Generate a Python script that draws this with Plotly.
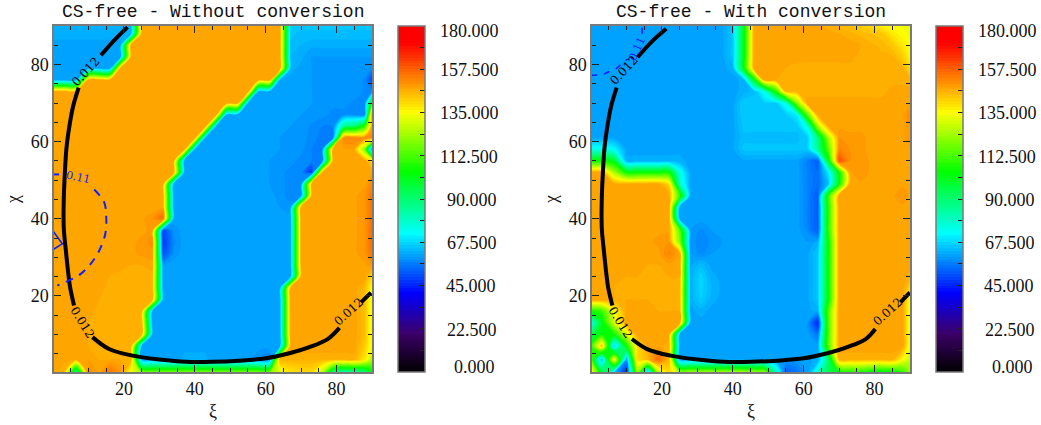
import plotly.graph_objects as go

W, H = 1041, 425

xi_nodes = [0, 3, 6.5, 10, 13, 16, 19, 22, 25, 28, 31, 34, 37, 40, 43, 46, 49, 52, 55, 58, 61, 64, 67, 70, 73, 76, 79, 82, 85, 88, 90]
chi_nodes = [0, 3.5, 7, 10, 13, 16, 19, 22, 25, 28, 31, 34, 37, 40, 43, 46, 49, 52, 55, 58, 61, 64, 67, 70, 73, 76, 79, 82, 85, 88, 90]

# CS-free, without conversion (rows run from chi = 0 upward)
angle_without = [
 [148,145,80,152,148,155,150,132,125,122,122,122,122,122,122,122,122,122,122,122,122,130,138,140,140,125,85,78,80,85,100],
 [148,148,148,148,147,147,147,146,60,60,60,60,62,62,62,60,60,60,60,58,56,146,146,146,146,146,146,146,146,138,125],
 [148,148,148,147,146,146,146,146,61,61,61,61,61,61,61,61,61,61,61,61,61,61,148,148,148,148,148,148,148,142,132],
 [148,148,148,147,146,146,146,146,146,61,61,61,61,61,61,61,61,61,61,61,61,61,148,148,148,148,148,148,148,144,132],
 [148,148,148,147,146,146,146,146,146,61,61,61,61,61,61,61,61,61,61,61,61,61,148,148,148,148,148,148,148,144,132],
 [148,148,148,148,146,146,146,146,146,61,61,61,61,61,61,61,61,61,61,61,61,61,148,148,148,148,148,148,148,144,132],
 [148,148,148,148,147,146,146,146,146,146,61,61,61,61,61,61,61,61,61,61,61,61,148,148,148,148,148,148,148,144,132],
 [148,148,148,148,148,146,146,146,146,146,61,61,61,61,61,61,61,61,61,61,61,61,148,148,148,148,148,148,148,145,134],
 [148,148,148,148,148,147,146,146,146,146,61,61,61,61,61,61,61,61,61,61,61,61,61,148,148,148,148,148,148,148,140],
 [148,148,148,148,148,148,148,147,147,148,60,61,61,61,61,61,61,61,61,61,61,61,61,148,148,148,148,148,148,148,150],
 [148,148,148,148,148,148,148,148,149,149,50,59,61,61,61,61,61,61,61,61,61,61,61,148,148,148,148,148,148,150,155],
 [148,148,148,148,148,148,148,148,149,151,47,58,61,61,61,61,61,61,61,61,61,61,61,148,148,148,148,148,148,150,156],
 [148,148,148,148,148,148,148,148,148,149,50,59,61,61,61,61,61,61,61,61,61,61,61,148,148,148,148,148,148,150,156],
 [148,148,148,148,148,148,148,148,148,150,156,61,61,61,61,61,61,61,61,61,61,61,61,148,148,148,148,148,148,150,155],
 [148,148,148,148,148,148,148,148,147,147,148,61,61,61,61,61,61,61,61,61,61,60,59,148,148,148,148,148,148,150,155],
 [148,148,148,148,148,148,148,148,148,148,148,61,61,61,61,61,61,61,61,61,61,59,58,58,148,148,148,148,148,150,155],
 [148,148,148,148,148,148,148,148,148,148,148,61,61,61,61,61,61,61,61,61,60,59,58,58,148,148,148,148,148,148,152],
 [148,148,148,148,148,148,148,148,148,148,148,148,61,61,61,61,61,61,61,61,60,59,58,58,46,148,148,148,148,148,148],
 [148,148,148,148,148,148,148,148,148,148,148,148,61,61,61,61,61,61,61,61,60,60,59,58,57,57,148,148,148,148,140],
 [148,148,148,148,148,148,148,148,148,148,148,148,148,61,61,61,61,61,61,61,61,60,60,59,57,57,148,148,148,120,55],
 [148,148,148,148,148,148,148,148,148,148,148,148,148,148,61,61,61,61,61,61,61,60,60,59,58,56,56,152,152,152,152],
 [148,148,148,148,148,148,148,148,148,148,148,148,148,148,148,61,61,61,61,61,61,61,60,60,58,57,57,85,90,110,148],
 [148,148,148,148,148,148,148,148,148,148,148,148,148,148,148,148,61,61,61,61,61,61,61,60,60,59,58,58,58,58,150],
 [148,148,148,148,148,148,148,148,148,148,148,148,148,148,148,148,148,148,61,61,61,61,61,61,60,60,59,59,58,58,110],
 [148,148,148,148,148,148,148,148,148,148,148,148,148,148,148,148,148,148,148,61,61,61,61,61,60,60,60,60,60,58,58],
 [61,61,61,148,148,148,148,148,148,148,148,148,148,148,148,148,148,148,148,148,148,61,61,61,60,60,60,60,60,58,50],
 [61,61,61,61,61,61,148,148,148,148,148,148,148,148,148,148,148,148,148,148,148,148,62,61,60,60,60,60,60,60,58],
 [61,61,61,61,61,61,61,148,148,148,148,148,148,148,148,148,148,148,148,148,148,148,63,62,60,60,60,60,60,60,60],
 [61,61,61,61,61,61,61,148,148,148,148,148,148,148,148,148,148,148,148,148,148,148,64,63,62,62,62,62,62,62,62],
 [62,62,62,62,62,62,62,62,148,148,148,148,148,148,148,148,148,148,148,148,148,148,65,64,64,64,64,64,64,64,64],
 [63,63,63,63,63,63,63,63,148,148,148,148,148,148,148,148,148,148,148,148,148,148,66,65,65,65,65,65,65,65,65],
]

# CS-free, with conversion (rows run from chi = 0 upward)
angle_with = [
 [140,100,62,45,120,60,125,140,128,128,128,128,128,128,128,126,125,85,52,55,60,80,95,100,105,105,100,98,100,108,120],
 [115,62,138,60,140,145,156,145,60,60,60,60,61,61,61,61,60,60,60,60,61,62,90,146,146,146,146,146,146,135,128],
 [108,145,65,105,140,148,148,146,61,61,61,61,61,61,61,61,61,61,61,61,61,61,115,148,148,148,148,148,148,148,132],
 [95,105,105,130,148,148,148,148,61,61,61,61,61,61,61,61,61,61,61,61,61,55,115,148,148,148,148,148,148,148,132],
 [75,100,130,148,148,148,148,148,148,61,61,61,61,61,61,61,61,61,61,61,60,45,115,148,148,148,148,148,148,148,132],
 [105,110,135,148,148,148,147,147,147,61,62,61,61,61,61,61,61,61,61,61,61,62,115,148,148,148,148,148,148,148,132],
 [148,148,147,147,147,147,146,146,146,62,66,62,61,61,61,61,61,61,61,61,61,65,105,148,148,148,148,148,148,148,134],
 [148,148,147,147,147,146,146,146,146,62,67,63,61,61,61,61,61,61,61,61,61,65,105,148,148,148,148,148,148,148,140],
 [148,148,148,147,147,147,147,147,147,62,67,62,61,61,61,61,61,61,61,61,61,65,105,148,148,148,148,148,148,148,146],
 [148,148,148,148,148,147,147,148,148,61,64,61,61,61,61,61,61,61,61,61,61,65,105,148,148,148,148,148,148,148,148],
 [148,148,148,148,148,148,148,152,148,60,58,60,61,61,61,61,61,61,61,61,61,65,105,148,148,148,148,148,148,148,148],
 [148,148,148,148,148,148,149,150,120,60,57,59,60,61,61,61,61,61,61,61,60,62,105,148,148,148,148,148,148,148,148],
 [148,148,148,148,148,148,148,148,115,60,58,60,61,61,61,61,61,61,61,61,58,52,110,148,148,148,148,148,148,148,148],
 [148,148,148,148,148,148,148,148,61,61,61,61,61,61,61,61,61,61,61,61,57,52,110,148,148,148,148,148,148,148,148],
 [148,148,148,148,148,148,148,148,61,61,61,61,61,61,61,61,61,61,61,61,57,52,110,148,148,148,148,148,148,148,148],
 [148,148,148,148,148,148,148,148,110,61,61,61,61,61,61,61,61,61,61,61,57,52,110,148,148,148,148,148,148,150,148],
 [148,148,148,148,148,148,148,140,80,61,61,61,61,61,61,61,61,61,61,61,57,54,65,105,148,148,148,148,148,148,148],
 [148,148,125,105,105,105,105,105,75,61,61,61,61,61,61,61,61,61,61,61,57,54,70,105,148,150,148,148,148,148,148],
 [105,105,100,62,62,62,62,62,62,61,61,61,61,61,61,61,61,61,61,61,57,52,100,160,150,150,148,148,148,148,148],
 [75,75,72,61,61,61,61,61,61,61,61,61,61,61,65,65,65,65,65,65,65,85,115,152,150,149,148,148,148,148,148],
 [61,61,61,61,61,61,61,61,61,61,61,61,61,61,64,64,64,64,64,64,66,88,125,150,149,149,148,148,148,148,150],
 [61,61,61,61,61,61,61,61,61,61,61,61,61,61,65,65,65,65,65,65,75,125,148,148,148,148,148,148,148,148,150],
 [61,61,61,61,61,61,61,61,61,61,61,61,61,61,66,66,66,66,66,70,115,148,148,148,148,148,148,148,148,148,152],
 [61,61,61,61,61,61,61,61,61,61,61,61,61,61,66,66,66,66,75,120,148,148,148,148,148,148,148,148,148,148,148],
 [61,61,61,61,61,61,61,61,61,61,61,61,61,61,62,64,75,105,146,146,146,146,146,146,146,146,146,146,148,148,148],
 [61,61,61,61,61,61,61,61,61,61,61,61,61,61,62,100,148,147,146,146,146,146,146,146,146,146,146,146,146,146,146],
 [61,61,61,61,61,61,61,61,61,61,61,61,61,62,100,148,148,148,147,146,146,146,146,146,146,146,146,146,146,146,140],
 [61,61,61,61,61,61,61,61,61,61,61,61,61,65,100,148,148,148,148,148,148,148,148,148,148,146,146,146,146,142,136],
 [61,61,61,61,61,61,61,61,61,61,61,61,61,65,100,148,148,148,148,148,148,148,148,148,148,147,146,145,143,138,134],
 [61,61,61,61,61,61,61,61,61,61,61,61,61,65,100,148,148,148,148,148,148,148,148,147,146,145,144,143,138,135,133],
 [61,61,61,61,61,61,61,61,61,61,61,61,61,65,100,148,148,148,148,148,148,148,146,145,144,142,140,137,135,133,132],
]

# 0.012 contour, without conversion (gaps hold the labels)
level_a_x = [21, 17.7, 13.5, None, 7.2, 5.6, 4.7, 3.8, 3.3, 3, 3, 3.6, 4.3, 4.8, 5.9, None, 11.1, 15.8, 22.4, 30, 37.5, 45, 52.5, 60, 66.7, 72.3, 77.5, 80.8, None, 86.9, 89.7]
level_a_y = [89.7, 86.7, 82.4, None, 74, 69, 64.6, 58.6, 51.6, 44.7, 37.8, 31.7, 25.7, 22.2, 17.5, None, 9.3, 6.2, 4.5, 3.5, 2.9, 2.9, 3.2, 3.8, 5.1, 6.7, 8.8, 11.7, None, 18.3, 20.8]
# 0.11 contour, without conversion
level_b_x = [0, 1.7, None, 11.6, 14.4, 15, 14.7, 13, 10.6, 7.8, 4.5, 1.2]
level_b_y = [51.5, 51.5, None, 47.6, 44.3, 40.4, 36, 31.7, 28.3, 25.7, 24, 22.7]
closed_b_x = [0, 2.6, 0]
closed_b_y = [36.8, 33.5, 32]
# 0.012 contour, with conversion
level_c_x = [21.2, 17.4, 13.1, None, 7.2, 5.6, 4.7, 3.8, 3.3, 3, 3, 3.6, 4.3, 4.8, 6, None, 11.5, 15.8, 22.4, 30, 37.5, 45, 52.5, 60, 66.7, 72.3, 77.5, 80.2, None, 87.3, 90]
level_c_y = [89.3, 86.2, 81.9, None, 74, 69, 64.6, 58.6, 51.6, 44.7, 37.8, 31.7, 25.7, 22.2, 17.5, None, 8.8, 6.2, 4.5, 3.5, 2.9, 2.9, 3.2, 3.8, 5.1, 6.7, 8.8, 11.4, None, 18.3, 20.9]
# 0.11 contour, with conversion
level_d_x = [0, 3.2, 7, 10.3, None, 14.4, 14.4]
level_d_y = [77.2, 77.4, 78.9, 81.5, None, 88, 89.7]

bar_ticks = [0, 11.25, 22.5, 33.75, 45, 56.25, 67.5, 78.75, 90, 101.25, 112.5, 123.75, 135, 146.25, 157.5, 168.75, 180]
bar_labels = ["180.000", "157.500", "135.000", "112.500", "90.000", "67.500", "45.000", "22.500", "0.000"]
bar_label_left = [437.7, 437.7, 437.7, 437.7, 445, 445, 444, 445, 452]
bar_label_mid = [31, 70, 113, 157, 200, 243, 286, 330, 367]

scale = [[0, "#000000"], [20/180, "#3c0068"], [41/180, "#0000ff"], [72/180, "#00ffff"], [104/180, "#00ff00"], [135/180, "#ffff00"], [171/180, "#ff0000"], [1, "#ff0000"]]

SERIF = "Liberation Serif"
FRAME = "#7a7a7a"
TOP, BOTTOM = 26, 372
PANELS = [(54, 372, 398), (592, 910, 936)]


def px(v):
    return v / W


def py(v):
    return 1 - v / H


fig = go.Figure()
for i, (grid, (x0, x1, bar_x)) in enumerate(zip([angle_without, angle_with], PANELS)):
    fig.add_trace(go.Contour(
        x=xi_nodes, y=chi_nodes, z=grid, xaxis=f"x{i+1}", yaxis=f"y{i+1}",
        colorscale=scale, zmin=0, zmax=180, line_width=0, hoverinfo="skip",
        contours=dict(start=0, end=180, size=1.5, coloring="fill", showlines=False),
        colorbar=dict(x=px(bar_x), xanchor="left", xpad=0, ypad=0, thickness=27, thicknessmode="pixels",
                      len=BOTTOM - TOP, lenmode="pixels", y=py(BOTTOM), yanchor="bottom",
                      tickmode="array", tickvals=bar_ticks, ticks="inside", ticklen=5, tickcolor="#222222",
                      showticklabels=False, outlinecolor=FRAME, outlinewidth=1.5, borderwidth=0),
    ))

for ax, lx, ly, col, w, dash, shape in [
    (1, level_a_x, level_a_y, "black", 4, "solid", "spline"),
    (1, level_b_x, level_b_y, "#1020ff", 2, "8px,7px", "spline"),
    (1, closed_b_x, closed_b_y, "#1020ff", 1.6, "solid", "linear"),
    (2, level_c_x, level_c_y, "black", 4, "solid", "spline"),
    (2, level_d_x, level_d_y, "#1020ff", 1.6, "6px,7px", "linear"),
]:
    fig.add_trace(go.Scatter(x=lx, y=ly, mode="lines", xaxis=f"x{ax}", yaxis=f"y{ax}", hoverinfo="skip",
                             showlegend=False, connectgaps=False, line=dict(color=col, width=w, dash=dash, shape=shape)))

axis_common = dict(range=[0.25, 90], tickmode="array", tickvals=[20, 40, 60, 80], ticks="inside", ticklen=7,
                   tickcolor="#222222", showline=True, linecolor=FRAME, linewidth=1.5, mirror="ticks", showgrid=False,
                   zeroline=False, tickfont=dict(family=SERIF, size=18, color="#111111"),
                   minor=dict(tickmode="array", tickvals=list(range(5, 90, 5)), ticks="inside", ticklen=4, tickcolor="#222222"))
for i, (x0, x1, _) in enumerate(PANELS):
    fig.update_layout({
        f"xaxis{i+1}": dict(axis_common, domain=[px(x0), px(x1)], anchor=f"y{i+1}",
                            title=dict(text="ξ", standoff=6, font=dict(family=SERIF, size=18, color="#111111"))),
        f"yaxis{i+1}": dict(axis_common, domain=[py(BOTTOM), py(TOP)], anchor=f"x{i+1}",
                            title=dict(text="χ", standoff=6, font=dict(family=SERIF, size=18, color="#111111"))),
    })

notes = []
for text, cx in [("CS-free - Without conversion", 212.5), ("CS-free - With conversion", 750.7)]:
    notes.append(dict(text=text, x=px(cx), y=py(12), xref="paper", yref="paper", xanchor="center", yanchor="middle",
                      showarrow=False, font=dict(family="Liberation Mono", size=18, color="#111111")))
for off in (0, 538.3):
    for lab, lx, my in zip(bar_labels, bar_label_left, bar_label_mid):
        notes.append(dict(text=lab, x=px(lx + off), y=py(my), xref="paper", yref="paper", xanchor="left",
                          yanchor="middle", showarrow=False, font=dict(family=SERIF, size=18, color="#111111")))
for ax, spots in [(1, [("0.012", 9.2, 78, -47, "black"), ("0.012", 8.1, 13.1, 58, "black"), ("0.012", 83.4, 15.7, -42, "black"), ("0.11", 7.3, 50.8, 12, "#1020ff")]),
                  (2, [("0.11", 13.1, 84.1, -65, "#1020ff"), ("0.012", 9.4, 78.5, -47, "black"), ("0.012", 8.1, 13.1, 58, "black"), ("0.012", 83.7, 15.7, -42, "black")])]:
    for lab, lx, ly, ang, col in spots:
        notes.append(dict(text=lab, x=lx, y=ly, xref=f"x{ax}", yref=f"y{ax}", textangle=ang, showarrow=False,
                          font=dict(family="DejaVu Serif", size=11 if lab == "0.11" else 12, color=col)))

fig.update_layout(width=W, height=H, autosize=False, margin=dict(l=0, r=0, t=0, b=0), paper_bgcolor="white",
                  plot_bgcolor="white", showlegend=False, annotations=notes)
fig.write_html("out.html", config=dict(displayModeBar=False),
               post_script="document.body.style.margin='0';document.body.style.overflow='hidden';")
